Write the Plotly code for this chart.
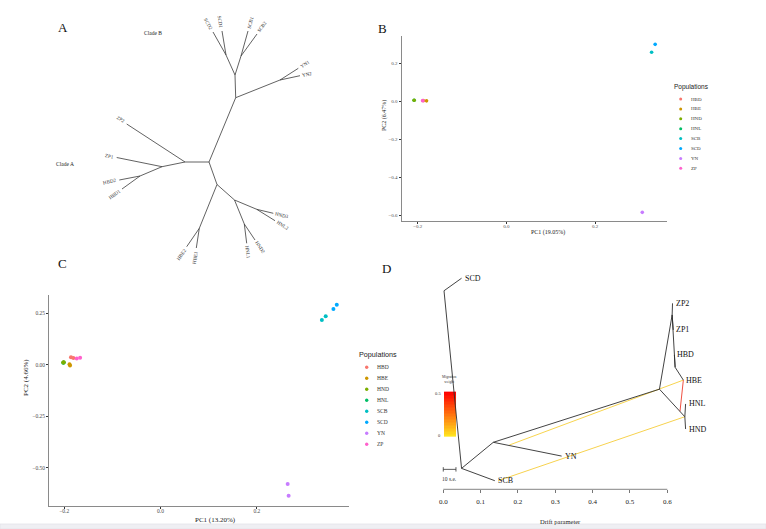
import math

import plotly.graph_objects as go

W, H = 766, 529
SERIF = "Liberation Serif"
SANS = "Liberation Sans"

# populations and ggplot hue colours
pops = ["HBD", "HBE", "HND", "HNL", "SCB", "SCD", "YN", "ZP"]
pop_colors = ["#F8766D", "#CD9600", "#7CAE00", "#00BE67",
              "#00BFC4", "#00A9FF", "#C77CFF", "#FF61CC"]

# --- panel A: unrooted NJ tree (layout units, centre node at 0,0) ---
a_node = ["C0", "Nup", "NSC", "NSCD", "SCD2", "SCD1", "NSCB", "SCB1", "SCB2",
          "NYN", "YN1", "YN2",
          "NZP", "ZP2", "NZ1", "ZP1", "NHBD", "HBD2", "HBD1",
          "Ndn", "NHBE", "HBE2", "HBE1",
          "NHN", "NHN1", "HND3", "HNL2", "NHN2", "HNL1", "HND2"]
a_x = [0.0, 0.267, 0.26, 0.17, 0.04, 0.13, 0.32, 0.39, 0.48,
       0.71, 0.893, 0.91,
       -0.24, -0.823, -0.47, -0.923, -0.69, -0.897, -0.87,
       0.08, -0.097, -0.223, -0.127,
       0.255, 0.477, 0.643, 0.66, 0.353, 0.377, 0.46]
a_y = [0.0, 0.643, 0.87, 1.07, 1.30, 1.31, 1.06, 1.31, 1.28,
       0.82, 0.937, 0.863,
       0.0, 0.38, -0.047, 0.045, -0.14, -0.18, -0.27,
       -0.225, -0.663, -0.847, -0.86,
       -0.38, -0.473, -0.513, -0.587, -0.62, -0.813, -0.78]
a_parent = [None, "C0", "Nup", "NSC", "NSCD", "NSCD", "NSC", "NSCB", "NSCB",
            "Nup", "NYN", "NYN",
            "C0", "NZP", "NZP", "NZ1", "NZ1", "NHBD", "NHBD",
            "C0", "Ndn", "NHBE", "NHBE",
            "Ndn", "NHN", "NHN1", "NHN1", "NHN", "NHN2", "NHN2"]

# --- panel B: PCA of population means ---
b_pop = ["HNL", "HBD", "HND", "HBE", "SCB", "SCD", "YN", "ZP"]
b_pc1 = [-0.208, -0.187, -0.208, -0.180, 0.327, 0.335, 0.306, -0.189]
b_pc2 = [0.005, 0.003, 0.005, 0.002, 0.258, 0.300, -0.586, 0.003]
b_xticks = [-0.2, 0.0, 0.2]
b_yticks = [0.2, 0.0, -0.2, -0.4, -0.6]

# --- panel C: PCA of individuals ---
c_pop = ["HNL", "HNL", "HBD", "HBD", "HBE", "HBE", "HND", "HND",
         "SCB", "SCB", "SCD", "SCD", "YN", "YN", "ZP", "ZP"]
c_pc1 = [-0.202, -0.201, -0.186, -0.181, -0.189, -0.188, -0.202, -0.201,
         0.335, 0.343, 0.359, 0.366, 0.264, 0.266, -0.174, -0.167]
c_pc2 = [0.010, 0.012, 0.037, 0.034, 0.003, -0.003, 0.011, 0.013,
         0.218, 0.236, 0.271, 0.292, -0.578, -0.635, 0.031, 0.035]
c_xticks = [-0.2, 0.0, 0.2]
c_yticks = [0.25, 0.0, -0.25, -0.5]
c_yticklabels = ["0.25", "0.00", "\u22120.25", "\u22120.50"]

# --- panel D: TreeMix tree (drift, vertical position) ---
d_node = ["R0", "SCD", "N1", "N2", "SCB", "YN", "N3", "N4", "HNL", "HND",
          "NZ", "ZP2", "ZP1", "NC", "HBD", "HBE"]
d_drift = [0.002, 0.049, 0.049, 0.134, 0.138, 0.317, 0.579, 0.647, 0.649, 0.649,
           0.613, 0.614, 0.616, 0.621, 0.619, 0.643]
d_y = [8.07, 8.58, 0.85, 1.91, 0.35, 1.35, 4.07, 2.95, 3.47, 2.45,
       7.09, 7.56, 6.48, 4.96, 5.46, 4.44]
d_parent = [None, "R0", "R0", "N1", "N1", "N2", "N2", "N3", "N4", "N4",
            "N3", "NZ", "NZ", "NZ", "NC", "NC"]
d_tips = ["SCD", "SCB", "YN", "HNL", "HND", "ZP2", "ZP1", "HBD", "HBE"]
# migration edges: start (drift, y) -> end (drift, y), weight
mig_x0 = [0.177, 0.147, 0.634]
mig_y0 = [1.80, 0.35, 3.17]
mig_x1 = [0.643, 0.647, 0.643]
mig_y1 = [4.44, 2.95, 4.44]
mig_w = [0.03, 0.04, 0.48]
d_xticks = [0.0, 0.1, 0.2, 0.3, 0.4, 0.5, 0.6]


def px(x):
    return x / W


def py(y):
    return 1 - y / H


def mig_color(w):
    t = max(0.0, min(1.0, w / 0.5))
    r = int(round(248 * (1 - t) + 240 * t))
    g = int(round(222 * (1 - t) + 75 * t))
    b = int(round(80 * (1 - t) + 65 * t))
    return "rgb({},{},{})".format(r, g, b)


fig = go.Figure()
ann = []
shapes = []

# panel A
a_idx = {n: i for i, n in enumerate(a_node)}
ex, ey = [], []
for i, p in enumerate(a_parent):
    if p is None:
        continue
    j = a_idx[p]
    ex += [a_x[j], a_x[i], None]
    ey += [a_y[j], a_y[i], None]
fig.add_trace(go.Scatter(x=ex, y=ey, mode="lines", xaxis="x", yaxis="y",
                         line=dict(color="#3a3a3a", width=0.8),
                         hoverinfo="skip", showlegend=False))
A_FS = 5
for n in a_node:
    if n in a_parent:
        continue
    i = a_idx[n]
    j = a_idx[a_parent[i]]
    dx, dy = a_x[i] - a_x[j], a_y[i] - a_y[j]
    L = math.hypot(dx, dy)
    ux, uy = dx / L, dy / L
    ang = math.degrees(math.atan2(dy, dx))
    if ang > 90:
        ang -= 180
    elif ang < -90:
        ang += 180
    off = (len(n) * 0.66 * A_FS / 2 + 2.5) / 100
    ann.append(dict(x=a_x[i] + ux * off, y=a_y[i] + uy * off, xref="x", yref="y",
                    text=n, textangle=-ang, showarrow=False,
                    xanchor="center", yanchor="middle",
                    font=dict(family=SERIF, size=A_FS, color="#333")))
for text, x, y in [("Clade B", 153, 33), ("Clade A", 65, 164)]:
    ann.append(dict(x=px(x), y=py(y), xref="paper", yref="paper", text=text,
                    showarrow=False, xanchor="center", yanchor="middle",
                    font=dict(family=SERIF, size=5.5, color="#222")))

# panel B
col = dict(zip(pops, pop_colors))
for p in b_pop:
    xs = [x for q, x in zip(b_pop, b_pc1) if q == p]
    ys = [y for q, y in zip(b_pop, b_pc2) if q == p]
    fig.add_trace(go.Scatter(x=xs, y=ys, mode="markers", xaxis="x2", yaxis="y2",
                             marker=dict(color=col[p], size=3.6),
                             name=p, showlegend=False))

# panel C
for p in ["HNL", "HBD", "HBE", "HND", "SCB", "SCD", "YN", "ZP"]:
    xs = [x for q, x in zip(c_pop, c_pc1) if q == p]
    ys = [y for q, y in zip(c_pop, c_pc2) if q == p]
    fig.add_trace(go.Scatter(x=xs, y=ys, mode="markers", xaxis="x3", yaxis="y3",
                             marker=dict(color=col[p], size=4),
                             name=p, showlegend=False))

# manual legends (overlay pixel axes)
for x0, y0, step, ms, fs, tx, ty, tfs in [
        (680.7, 99, 9.9, 3, 5, 671.7, 86.7, 6.5),
        (366.7, 367.3, 11.0, 3.4, 5.5, 356.7, 354.3, 7.2)]:
    ly = [y0 + k * step for k in range(len(pops))]
    fig.add_trace(go.Scatter(x=[x0] * len(pops), y=ly, mode="markers",
                             xaxis="x5", yaxis="y5",
                             marker=dict(color=pop_colors, size=ms),
                             hoverinfo="skip", showlegend=False))
    for k, p in enumerate(pops):
        ann.append(dict(x=x0 + 8.5, y=ly[k], xref="x5", yref="y5", text=p,
                        xanchor="left", yanchor="middle", showarrow=False,
                        font=dict(family=SERIF, size=fs, color="#333")))
    ann.append(dict(x=tx, y=ty, xref="x5", yref="y5", text="Populations",
                    xanchor="left", yanchor="middle", showarrow=False,
                    font=dict(family=SANS, size=tfs, color="#222")))

# panel D tree
d_idx = {n: i for i, n in enumerate(d_node)}
ex, ey = [], []
for i, p in enumerate(d_parent):
    if p is None:
        continue
    j = d_idx[p]
    ex += [d_drift[j], d_drift[i], None]
    ey += [d_y[j], d_y[i], None]
# colour bar for migration weight
nz = 30
zcol = [[0.5 * k / (nz - 1)] for k in range(nz)]
yedges = [2.14 + (3.97 - 2.14) * k / nz for k in range(nz + 1)]
fig.add_trace(go.Heatmap(z=zcol, x=[0.002, 0.034], y=yedges, xaxis="x4", yaxis="y4",
                         colorscale=[[0, "rgb(255,228,30)"], [1, "rgb(255,0,0)"]],
                         zmin=0, zmax=0.5, showscale=False, hoverinfo="skip"))
for k in range(len(mig_w)):
    fig.add_trace(go.Scatter(x=[mig_x0[k], mig_x1[k]], y=[mig_y0[k], mig_y1[k]],
                             mode="lines", xaxis="x4", yaxis="y4",
                             line=dict(color=mig_color(mig_w[k]), width=1.0),
                             hoverinfo="skip", showlegend=False))
fig.add_trace(go.Scatter(x=ex, y=ey, mode="lines", xaxis="x4", yaxis="y4",
                         line=dict(color="#2e2e2e", width=0.9),
                         hoverinfo="skip", showlegend=False))
for n in d_tips:
    i = d_idx[n]
    ann.append(dict(x=d_drift[i], y=d_y[i], xref="x4", yref="y4", text=n,
                    xanchor="left", yanchor="middle", xshift=1, showarrow=False,
                    font=dict(family=SERIF, size=8, color="#111")))
for text, x, y, fs, xa in [("Migration<br>weight", 0.018, 4.47, 3.6, "center"),
                           ("0.5", 0.0, 3.88, 4.5, "right"),
                           ("0", 0.0, 2.2, 4.5, "right"),
                           ("10 s.e.", 0.018, 0.42, 5.5, "center")]:
    ann.append(dict(x=x, y=y, xref="x4", yref="y4", text=text, xanchor=xa,
                    yanchor="middle", showarrow=False, align="center",
                    font=dict(family=SERIF, size=fs, color="#333")))
# scale bar and x axis line for D
shapes.append(dict(type="line", xref="x4", yref="y4", x0=0.0, x1=0.034, y0=0.81, y1=0.81,
                   line=dict(color="#333", width=0.8)))
for xb in (0.0, 0.034):
    shapes.append(dict(type="line", xref="x4", yref="y4", x0=xb, x1=xb, y0=0.72, y1=0.9,
                       line=dict(color="#333", width=0.8)))
shapes.append(dict(type="line", xref="x4", yref="paper", x0=0.0, x1=0.6,
                   y0=py(489.3), y1=py(489.3), line=dict(color="#777", width=0.9)))

# axis titles and panel letters
for text, x, y, fs, ang in [
        ("PC1 (19.05%)", 548, 232.7, 6, 0), ("PC2 (6.47%)", 385, 116, 6, -90),
        ("PC1 (13.20%)", 215, 519.5, 7, 0), ("PC2 (4.66%)", 26, 378, 7, -90),
        ("Drift parameter", 560, 521.5, 6.5, 0)]:
    ann.append(dict(x=px(x), y=py(y), xref="paper", yref="paper", text=text,
                    textangle=ang, showarrow=False, xanchor="center", yanchor="middle",
                    font=dict(family=SERIF, size=fs, color="#222")))
for text, x, y in [("A", 63, 28), ("B", 382.7, 28.3), ("C", 62, 263), ("D", 386.7, 268.3)]:
    ann.append(dict(x=px(x), y=py(y), xref="paper", yref="paper", text=text,
                    showarrow=False, xanchor="center", yanchor="middle",
                    font=dict(family=SERIF, size=13, color="#111")))

# bottom strip of the page
shapes.append(dict(type="rect", xref="paper", yref="paper", x0=0, x1=1, y0=0, y1=5 / H,
                   fillcolor="#EFEFF3", line=dict(color="#E3E3E9", width=0.8), layer="below"))

hidden = dict(visible=False, showgrid=False, zeroline=False)
pca_ax = dict(showline=True, linecolor="#8a8a8a", linewidth=1.2, showgrid=False,
              zeroline=False, ticks="outside", ticklen=2, tickwidth=0.7,
              tickcolor="#333", automargin=False,
              tickfont=dict(family=SERIF, size=5, color="#4D4D4D"))

fig.update_layout(
    width=W, height=H, margin=dict(l=0, r=0, t=0, b=0, autoexpand=False),
    paper_bgcolor="white", plot_bgcolor="rgba(0,0,0,0)", showlegend=False,
    xaxis=dict(hidden, domain=[0, 1], range=[-2.09, 5.57]),
    yaxis=dict(hidden, domain=[0, 1], range=[-3.67, 1.62]),
    xaxis2=dict(pca_ax, domain=[px(401.7), px(666.7)], range=[-0.236, 0.361],
                tickvals=b_xticks, ticktext=["\u22120.2", "0.0", "0.2"], anchor="y2",
                ticklabelstandoff=-2),
    yaxis2=dict(pca_ax, domain=[py(220.7), py(36)], range=[-0.63, 0.344],
                tickvals=b_yticks, ticktext=["0.2", "0.0", "\u22120.2", "\u22120.4", "\u22120.6"],
                anchor="x2"),
    xaxis3=dict(pca_ax, domain=[px(49.3), px(349.3)], range=[-0.231, 0.392],
                tickvals=c_xticks, ticktext=["\u22120.2", "0.0", "0.2"], anchor="y3",
                ticklabelstandoff=-2,
                tickfont=dict(family=SERIF, size=5.5, color="#4D4D4D")),
    yaxis3=dict(pca_ax, domain=[py(505.7), py(295)], range=[-0.683, 0.339],
                tickvals=c_yticks, ticktext=c_yticklabels, anchor="x3",
                tickfont=dict(family=SERIF, size=5.5, color="#4D4D4D")),
    xaxis4=dict(domain=[px(435.8), px(723.3)], range=[-0.02, 0.75], anchor="y4",
                showline=False, showgrid=False, zeroline=False, ticks="outside",
                ticklen=2.5, tickwidth=0.8, tickcolor="#777", tickvals=d_xticks,
                ticktext=["0.0", "0.1", "0.2", "0.3", "0.4", "0.5", "0.6"],
                ticklabelstandoff=3, automargin=False,
                tickfont=dict(family=SERIF, size=7, color="#222")),
    yaxis4=dict(hidden, domain=[py(489.3), py(265)], range=[0, 9.118], anchor="x4"),
    xaxis5=dict(hidden, domain=[0, 1], range=[0, W], anchor="y5"),
    yaxis5=dict(hidden, domain=[0, 1], range=[H, 0], anchor="x5"),
    annotations=ann, shapes=shapes,
)

fig.write_html(
    "out.html",
    config={"displayModeBar": False},
    post_script="document.body.style.margin='0px';document.body.style.overflow='hidden';",
)
